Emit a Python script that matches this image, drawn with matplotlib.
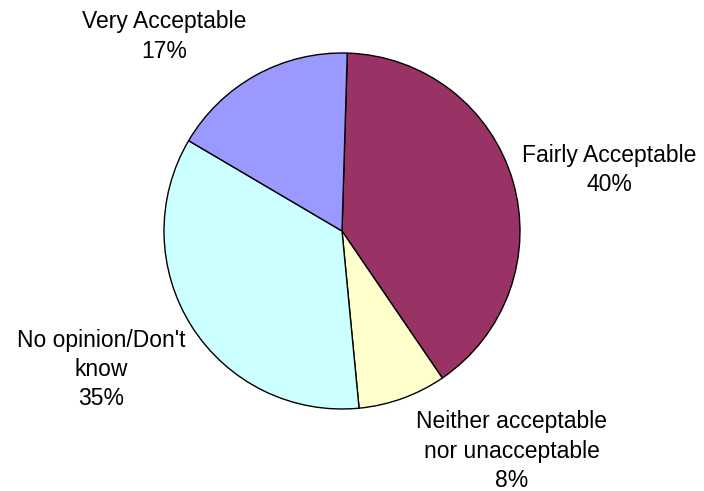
import matplotlib
matplotlib.use("Agg")
import matplotlib.pyplot as plt

categories = ["Fairly Acceptable", "Neither acceptable\nnor unacceptable",
              "No opinion/Don't\nknow", "Very Acceptable"]
values = [40, 8, 35, 17]
pct_labels = ["40%", "8%", "35%", "17%"]
colors = ["#993366", "#FFFFCC", "#CCFFFF", "#9999FF"]

# label positions in data units (pie radius = 1)
label_pos = [(1.50, 0.343), (0.955, -1.236), (-1.354, -0.778), (-1.0, 1.093)]

plt.rcParams['font.family'] = ['Liberation Sans', 'DejaVu Sans']

fig = plt.figure(figsize=(7.04, 4.91), dpi=100)
r_px = 178
cx, cy = 342, 231
ax = fig.add_axes([(cx - r_px) / 704, 1 - (cy + r_px) / 491, 2 * r_px / 704, 2 * r_px / 491])
ax.pie(values, colors=colors, startangle=88.3, counterclock=False,
       wedgeprops=dict(edgecolor="black", linewidth=1.0))
ax.set_xlim(-1, 1)
ax.set_ylim(-1, 1)
ax.set_aspect("auto")
ax.axis("off")

for cat, pct, (x, y) in zip(categories, pct_labels, label_pos):
    ax.text(x, y, f"{cat}\n{pct}", ha="center", va="center", fontsize=16.5,
            linespacing=1.34, clip_on=False)

fig.savefig("out.png", dpi=100)
